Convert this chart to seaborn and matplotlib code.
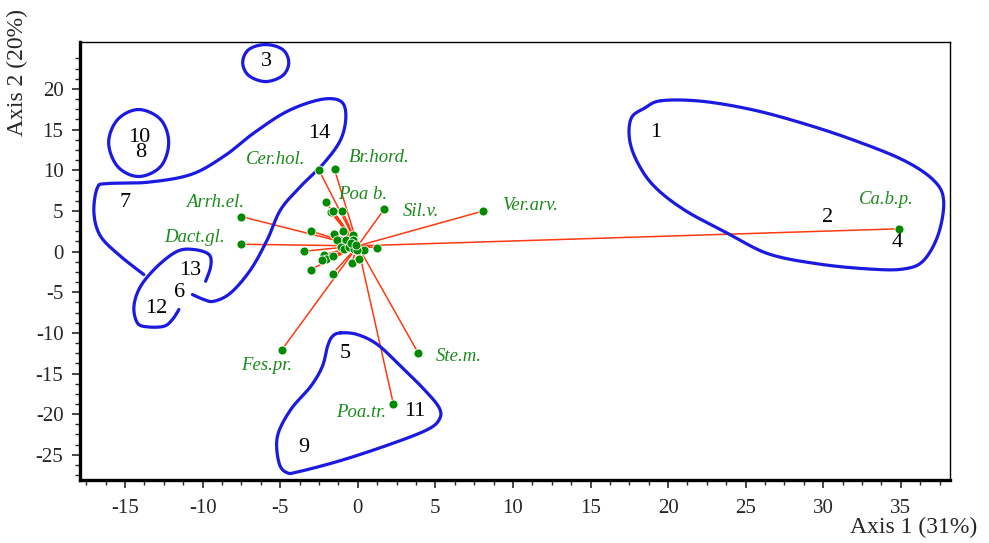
import numpy as np
import pandas as pd
import matplotlib
matplotlib.use("Agg")
import matplotlib.pyplot as plt
import seaborn as sns

# species scores (named)
species_names = ["Ca.b.p.", "Ver.arv.", "Sil.v.", "Br.hord.", "Cer.hol.", "Arrh.el.",
                 "Dact.gl.", "Fes.pr.", "Poa.tr.", "Ste.m.", "Poa b."]
species_x = [34.9, 8.1, 1.7, -1.5, -2.5, -7.5, -7.5, -4.9, 2.3, 3.9, -1.0]
species_y = [2.8, 5.0, 5.2, 10.1, 10.0, 4.3, 0.9, -12.1, -18.8, -12.5, 5.0]
label_x = [34.1, 11.1, 4.1, 1.35, -5.3, -9.2, -10.5, -5.9, 0.2, 6.5, 0.3]
label_y = [6.4, 5.7, 4.9, 11.6, 11.3, 6.0, 1.7, -14.0, -19.8, -12.9, 7.0]

# unlabelled species near the centre
other_x = [-2.06, -1.74, -1.61, -2.99, -1.53, -0.95, -3.46, -2.17, -2.02, -2.32, -1.63,
           -3.03, -1.63, -0.39, 0.08, 0.41, 1.23, -0.34, -1.31, -0.77, -0.34, -1.10,
           -0.88, -0.56, -0.24, -0.02, -0.45, -0.13]
other_y = [6.06, 4.83, 5.04, 2.50, 2.18, 2.50, 0.04, -0.37, -0.86, -1.07, -0.49,
           -2.21, -2.74, -1.39, -0.86, 0.25, 0.46, 2.09, 1.48, 1.48, 1.48, 0.58,
           0.33, 0.58, 0.33, 0.25, 1.07, 0.86]
origin = (0.0, 0.7)

# sample (site) scores
site_labels = ["1", "2", "3", "4", "5", "6", "7", "8", "9", "10", "11", "12", "13", "14"]
site_x = [19.2, 30.3, -5.9, 34.8, -0.8, -11.5, -15.0, -14.0, -3.5, -14.1, 3.7, -13.0, -10.8, -2.5]
site_y = [14.6, 4.2, 23.4, 1.1, -12.5, -5.0, 6.0, 12.2, -24.1, 14.0, -19.7, -7.0, -2.3, 14.5]

# hand drawn group outlines
group_1_2_4 = [(19.57, 18.56), (22.17, 18.49), (25.42, 17.45), (28.66, 15.79), (31.92, 13.74),
               (35.16, 11.25), (37.11, 8.78), (37.76, 6.31), (37.43, 2.18), (36.46, -1.12),
               (35.16, -2.15), (33.0, -2.15), (29.75, -1.54), (26.5, -0.3), (23.9, 2.18),
               (21.09, 5.07), (19.14, 7.96), (18.06, 10.85), (17.52, 13.74), (17.63, 16.42),
               (18.49, 17.65)]
group_3 = [(-5.94, 25.46), (-4.84, 24.85), (-4.45, 23.25), (-4.84, 21.65), (-5.94, 20.91),
           (-7.03, 21.65), (-7.42, 23.25), (-7.03, 24.85)]
group_8_10 = [(-14.13, 17.47), (-12.71, 16.24), (-12.19, 13.41), (-12.71, 10.46), (-14.13, 9.23),
              (-15.48, 10.46), (-16.06, 13.41), (-15.48, 16.24)]
group_7_14 = [(-13.79, -2.83), (-15.29, -0.58), (-16.58, 1.88), (-17.01, 4.76), (-16.79, 7.84),
              (-16.15, 8.36), (-13.57, 8.52), (-10.77, 9.47), (-8.63, 11.72), (-6.69, 14.6),
              (-4.54, 17.26), (-2.39, 18.7), (-1.1, 18.49), (-0.77, 16.64), (-1.1, 13.78),
              (-2.17, 10.91), (-3.68, 8.03), (-4.97, 5.17), (-5.83, 1.48), (-6.9, -2.21),
              (-8.19, -5.08), (-9.27, -6.11), (-9.92, -5.9), (-10.66, -5.29)]
group_6_12_13 = [(-9.81, -3.65), (-9.48, -1.81), (-9.59, -0.37), (-10.56, 0.25), (-11.63, 0.04),
                 (-12.92, -1.81), (-14.0, -4.27), (-14.43, -6.73), (-14.21, -8.77), (-13.57, -9.26),
                 (-12.5, -9.19), (-11.95, -8.36), (-11.53, -7.13)]
group_5_9_11 = [(-1.1, -10.0), (-0.02, -10.21), (1.27, -11.44), (2.77, -14.11), (4.28, -16.97),
                (5.25, -19.23), (5.25, -20.66), (4.5, -21.89), (2.34, -23.53), (-0.88, -25.58),
                (-3.68, -27.02), (-4.54, -27.22), (-5.08, -25.99), (-5.18, -22.72), (-4.32, -19.43),
                (-3.03, -16.57), (-2.28, -14.11), (-1.95, -11.65), (-1.63, -10.42)]
outlines = [(group_1_2_4, True), (group_3, True), (group_8_10, True),
            (group_7_14, False), (group_6_12_13, False), (group_5_9_11, True)]


def smooth(pts, closed, n=20):
    # catmull-rom through the hand picked outline points
    p = np.array(pts, dtype=float)
    if closed:
        p = np.vstack([p[-1], p, p[0], p[1]])
    else:
        p = np.vstack([p[0], p, p[-1]])
    t = np.linspace(0, 1, n, endpoint=False)[:, None]
    out = []
    for i in range(1, len(p) - 2):
        p0, p1, p2, p3 = p[i - 1], p[i], p[i + 1], p[i + 2]
        out.append(0.5 * ((2 * p1) + (-p0 + p2) * t + (2 * p0 - 5 * p1 + 4 * p2 - p3) * t ** 2
                          + (-p0 + 3 * p1 - 3 * p2 + p3) * t ** 3))
    out.append(p[-2][None, :])
    return np.vstack(out)


sns.set_style("white")
plt.rcParams["font.family"] = ["Liberation Serif", "DejaVu Serif"]
plt.rcParams["axes.unicode_minus"] = False

fig = plt.figure(figsize=(9.89, 5.43), dpi=100)
ax = fig.add_axes([0.081, 0.116, 0.88, 0.807])

all_x = species_x + other_x
all_y = species_y + other_y
seg_x, seg_y = [], []
for x, y in zip(all_x, all_y):
    seg_x += [origin[0], x, np.nan]
    seg_y += [origin[1], y, np.nan]
ax.plot(seg_x, seg_y, color="#ff3a10", lw=1.1, zorder=2)

for pts, closed in outlines:
    c = smooth(pts, closed)
    ax.plot(c[:, 0], c[:, 1], color="#1a1ae0", lw=2.3, zorder=3, solid_capstyle="round")

pts = pd.DataFrame({"x": all_x, "y": all_y})
sns.scatterplot(data=pts, x="x", y="y", ax=ax, color="#008a00", s=42,
                edgecolor="white", linewidth=0.6, zorder=4, legend=False)

for name, x, y in zip(species_names, label_x, label_y):
    ax.text(x, y, name, color="#1a8a1a", style="italic", fontsize=13.5,
            ha="center", va="center", zorder=5)
for name, x, y in zip(site_labels, site_x, site_y):
    ax.text(x, y, name, color="black", fontsize=16, ha="center", va="center", zorder=5)

ax.set_xlim(-17.9, 38.2)
ax.set_ylim(-28.1, 25.8)
ax.set_xticks(np.arange(-15, 36, 5))
ax.set_yticks(np.arange(-25, 21, 5))
ax.set_xticks(np.arange(-17.5, 38, 1.25), minor=True)
ax.set_yticks(np.arange(-27.5, 25, 1.25), minor=True)
ax.tick_params(which="major", direction="out", length=6, width=1.2, labelsize=15,
               bottom=True, left=True, top=False, right=False)
ax.tick_params(axis="x", which="major", pad=8)
ax.tick_params(axis="y", which="major", pad=6)
ax.tick_params(which="minor", direction="out", length=3.5, width=1.0,
               bottom=True, left=True, top=False, right=False)
ax.set_xlabel("")
ax.set_ylabel("")
for side in ["left", "bottom"]:
    ax.spines[side].set_linewidth(2.4)
for side in ["top", "right"]:
    ax.spines[side].set_linewidth(1.0)
for s in ax.spines.values():
    s.set_color("black")

fig.text(0.018, 0.867, "Axis 2 (20%)", rotation=90, ha="center", va="center", fontsize=17)
fig.text(0.924, 0.028, "Axis 1 (31%)", ha="center", va="center", fontsize=17)

fig.savefig("out.png", dpi=100)
